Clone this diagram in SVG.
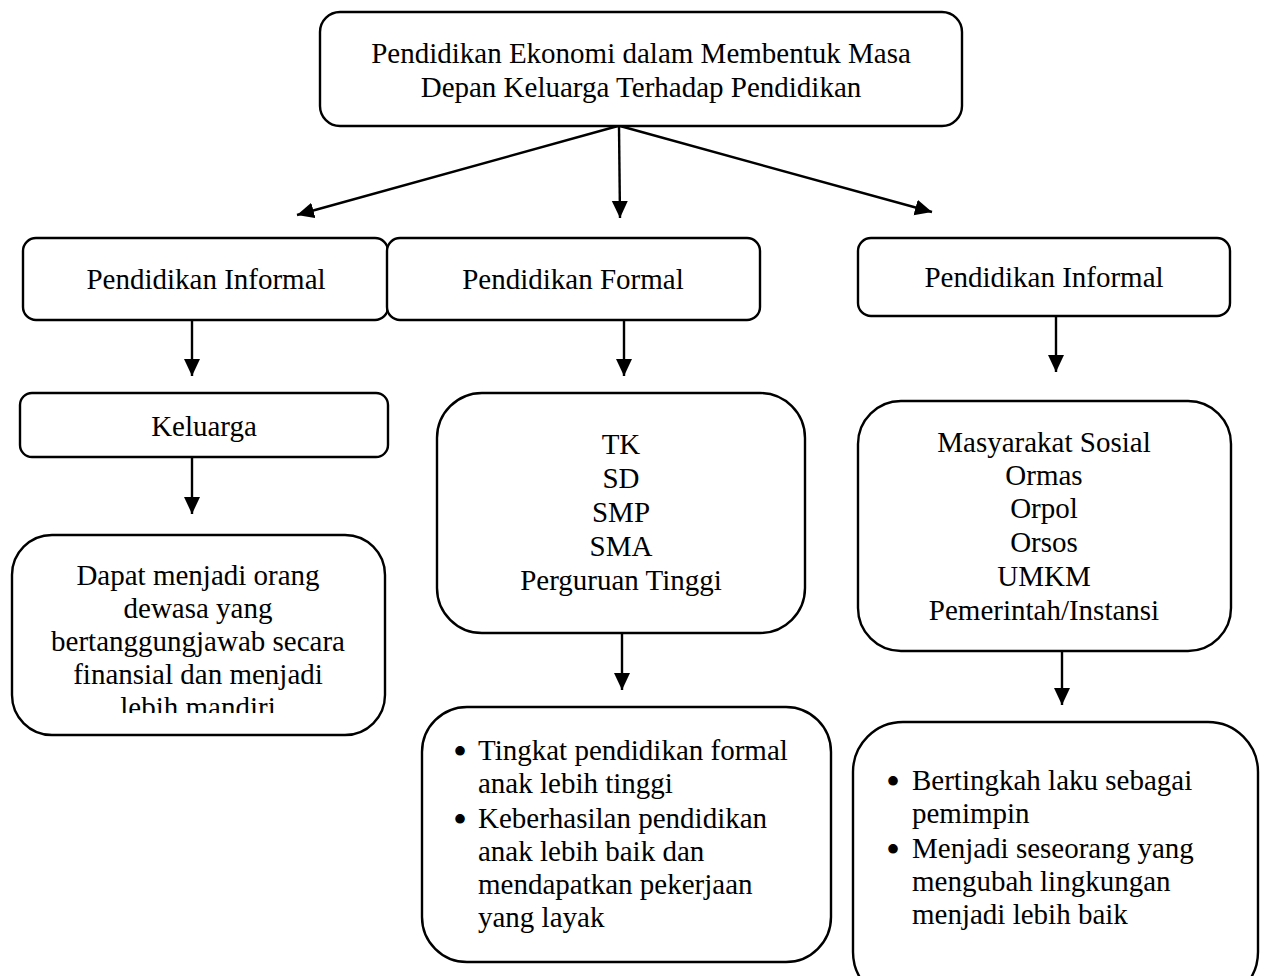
<svg xmlns="http://www.w3.org/2000/svg" width="1268" height="976" viewBox="0 0 1268 976">
<style>
.box{fill:#fff;stroke:#000;stroke-width:2.4}
.t{font-family:"Liberation Serif","Times New Roman",serif;font-size:29px;fill:#000}
.c{text-anchor:middle}
.b{font-family:"Liberation Serif","Times New Roman",serif;font-size:40px;fill:#000;text-anchor:middle}
.con{stroke:#000;stroke-width:2.4;fill:none}
</style>
<defs>
<marker id="ah" markerUnits="userSpaceOnUse" markerWidth="20" markerHeight="18" refX="17" refY="8" orient="auto">
<path d="M0,0 L17,8 L0,16 z" fill="#000"/>
</marker>
<clipPath id="clipL"><rect x="0" y="540" width="400" height="173"/></clipPath>
</defs>
<rect width="1268" height="976" fill="#fff"/>

<g id="connectors">
<line class="con" x1="618" y1="126" x2="297" y2="215" marker-end="url(#ah)"/>
<line class="con" x1="619" y1="126" x2="620" y2="218" marker-end="url(#ah)"/>
<line class="con" x1="620" y1="126" x2="932" y2="212" marker-end="url(#ah)"/>
<line class="con" x1="192" y1="321" x2="192" y2="376" marker-end="url(#ah)"/>
<line class="con" x1="192" y1="458" x2="192" y2="514" marker-end="url(#ah)"/>
<line class="con" x1="624" y1="321" x2="624" y2="376" marker-end="url(#ah)"/>
<line class="con" x1="622" y1="634" x2="622" y2="690" marker-end="url(#ah)"/>
<line class="con" x1="1056" y1="317" x2="1056" y2="372" marker-end="url(#ah)"/>
<line class="con" x1="1062" y1="651" x2="1062" y2="705" marker-end="url(#ah)"/>
</g>

<g id="root">
<rect class="box" x="320" y="12" width="642" height="114" rx="20"/>
<text class="t c" x="641" y="63">Pendidikan Ekonomi dalam Membentuk Masa</text>
<text class="t c" x="641" y="97">Depan Keluarga Terhadap Pendidikan</text>
</g>

<g id="informal-left">
<rect class="box" x="23" y="238" width="365" height="82" rx="13"/>
<text class="t c" x="206" y="289">Pendidikan Informal</text>
</g>

<g id="formal">
<rect class="box" x="387" y="238" width="373" height="82" rx="13"/>
<text class="t c" x="573" y="289">Pendidikan Formal</text>
</g>

<g id="informal-right">
<rect class="box" x="858" y="238" width="372" height="78" rx="13"/>
<text class="t c" x="1044" y="287">Pendidikan Informal</text>
</g>

<g id="keluarga">
<rect class="box" x="20" y="393" width="368" height="64" rx="12"/>
<text class="t c" x="204" y="436">Keluarga</text>
</g>

<g id="jenjang">
<rect class="box" x="437" y="393" width="368" height="240" rx="45"/>
<text class="t c" x="621" y="454">TK</text>
<text class="t c" x="621" y="488">SD</text>
<text class="t c" x="621" y="522">SMP</text>
<text class="t c" x="621" y="556">SMA</text>
<text class="t c" x="621" y="590">Perguruan Tinggi</text>
</g>

<g id="masyarakat">
<rect class="box" x="858" y="401" width="373" height="250" rx="43"/>
<text class="t c" x="1044" y="452">Masyarakat Sosial</text>
<text class="t c" x="1044" y="485">Ormas</text>
<text class="t c" x="1044" y="518">Orpol</text>
<text class="t c" x="1044" y="552">Orsos</text>
<text class="t c" x="1044" y="586">UMKM</text>
<text class="t c" x="1044" y="620">Pemerintah/Instansi</text>
</g>

<g id="hasil-keluarga">
<rect class="box" x="12" y="535" width="373" height="200" rx="40"/>
<g clip-path="url(#clipL)">
<text class="t c" x="198" y="585">Dapat menjadi orang</text>
<text class="t c" x="198" y="618">dewasa yang</text>
<text class="t c" x="198" y="651">bertanggungjawab secara</text>
<text class="t c" x="198" y="684">finansial dan menjadi</text>
<text class="t c" x="198" y="717">lebih mandiri</text>
</g>
</g>

<g id="hasil-formal">
<rect class="box" x="422" y="707" width="409" height="255" rx="45"/>
<text class="b" x="460" y="765">•</text>
<text class="t" x="478" y="760">Tingkat pendidikan formal</text>
<text class="t" x="478" y="793">anak lebih tinggi</text>
<text class="b" x="460" y="833">•</text>
<text class="t" x="478" y="828">Keberhasilan pendidikan</text>
<text class="t" x="478" y="861">anak lebih baik dan</text>
<text class="t" x="478" y="894">mendapatkan pekerjaan</text>
<text class="t" x="478" y="927">yang layak</text>
</g>

<g id="hasil-informal">
<rect class="box" x="853" y="722" width="405" height="280" rx="50"/>
<text class="b" x="893" y="795">•</text>
<text class="t" x="912" y="790">Bertingkah laku sebagai</text>
<text class="t" x="912" y="823">pemimpin</text>
<text class="b" x="893" y="863">•</text>
<text class="t" x="912" y="858">Menjadi seseorang yang</text>
<text class="t" x="912" y="891">mengubah lingkungan</text>
<text class="t" x="912" y="924">menjadi lebih baik</text>
</g>
</svg>
